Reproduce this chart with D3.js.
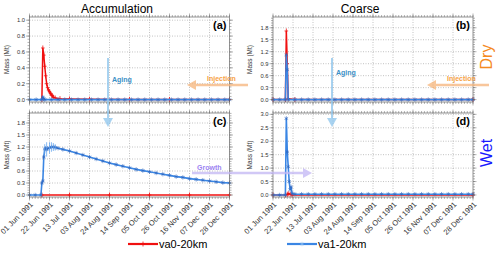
<!DOCTYPE html>
<html>
<head>
<meta charset="utf-8">
<script src="https://cdn.jsdelivr.net/npm/d3@7"></script>
<style>
  body { margin: 0; background: #fff; }
  svg { font-family: "Liberation Sans", Arial, sans-serif; display: block; }
</style>
</head>
<body>
<div id="chart"></div>
<script>
// dados
const xTickDates = ["1991-06-01", "1991-06-22", "1991-07-13", "1991-08-03", "1991-08-24",
  "1991-09-14", "1991-10-05", "1991-10-26", "1991-11-16", "1991-12-07", "1991-12-28"];

// (a) Accumulation / Dry
const va0A = [["1991-06-14", 0], ["1991-06-15", 0.65], ["1991-06-16", 0.56], ["1991-06-17", 0.42],
  ["1991-06-18", 0.3], ["1991-06-19", 0.2], ["1991-06-20", 0.15], ["1991-06-21", 0.12],
  ["1991-06-22", 0.1], ["1991-06-23", 0.08], ["1991-06-24", 0.06], ["1991-06-25", 0.05],
  ["1991-06-26", 0.03], ["1991-06-28", 0.02], ["1991-07-03", 0.012], ["1991-07-13", 0.008],
  ["1991-08-03", 0.005], ["1991-09-14", 0.003], ["1991-10-26", 0.002], ["1991-12-28", 0.001]];
const va1A = [["1991-06-01", 0], ["1991-06-08", 0], ["1991-06-14", 0], ["1991-06-15", 0.03],
  ["1991-06-16", 0.01], ["1991-06-17", 0], ["1991-06-24", 0], ["1991-07-01", 0], ["1991-07-08", 0],
  ["1991-07-15", 0], ["1991-07-22", 0], ["1991-07-29", 0], ["1991-08-05", 0], ["1991-08-12", 0],
  ["1991-08-19", 0], ["1991-08-26", 0], ["1991-09-02", 0], ["1991-09-09", 0], ["1991-09-16", 0],
  ["1991-09-23", 0], ["1991-09-30", 0], ["1991-10-07", 0], ["1991-10-14", 0], ["1991-10-21", 0],
  ["1991-10-28", 0], ["1991-11-04", 0], ["1991-11-11", 0], ["1991-11-18", 0], ["1991-11-25", 0],
  ["1991-12-02", 0], ["1991-12-09", 0], ["1991-12-16", 0], ["1991-12-23", 0], ["1991-12-28", 0]];

// (b) Coarse / Dry
const va0B = [["1991-06-01", 0], ["1991-06-14", 0], ["1991-06-15", 1.72], ["1991-06-16", 0.9],
  ["1991-06-17", 0.02], ["1991-06-24", 0], ["1991-12-28", 0]];
const va1B = [["1991-06-01", 0], ["1991-06-08", 0], ["1991-06-14", 0], ["1991-06-15", 1.12],
  ["1991-06-16", 0.75], ["1991-06-17", 0], ["1991-06-24", 0], ["1991-07-01", 0], ["1991-07-08", 0],
  ["1991-07-15", 0], ["1991-07-22", 0], ["1991-07-29", 0], ["1991-08-05", 0], ["1991-08-12", 0],
  ["1991-08-19", 0], ["1991-08-26", 0], ["1991-09-02", 0], ["1991-09-09", 0], ["1991-09-16", 0],
  ["1991-09-23", 0], ["1991-09-30", 0], ["1991-10-07", 0], ["1991-10-14", 0], ["1991-10-21", 0],
  ["1991-10-28", 0], ["1991-11-04", 0], ["1991-11-11", 0], ["1991-11-18", 0], ["1991-11-25", 0],
  ["1991-12-02", 0], ["1991-12-09", 0], ["1991-12-16", 0], ["1991-12-23", 0], ["1991-12-28", 0]];

// (c) Accumulation / Wet
const va0C = [["1991-06-14", 0], ["1991-07-13", 0], ["1991-08-24", 0], ["1991-10-05", 0],
  ["1991-11-16", 0], ["1991-12-28", 0]];
const va1C = [["1991-06-01", 0], ["1991-06-07", 0], ["1991-06-13", 0], ["1991-06-14", 0.3],
  ["1991-06-15", 0.35], ["1991-06-16", 0.95], ["1991-06-17", 1.15], ["1991-06-18", 1.17],
  ["1991-06-19", 1.14], ["1991-06-20", 1.16], ["1991-06-22", 1.18], ["1991-06-24", 1.2],
  ["1991-06-26", 1.2], ["1991-06-28", 1.19], ["1991-07-01", 1.17], ["1991-07-06", 1.14],
  ["1991-07-13", 1.1], ["1991-07-20", 1.05], ["1991-07-27", 1.0], ["1991-08-03", 0.95],
  ["1991-08-10", 0.9], ["1991-08-17", 0.85], ["1991-08-24", 0.8], ["1991-08-31", 0.76],
  ["1991-09-07", 0.72], ["1991-09-14", 0.68], ["1991-09-21", 0.64], ["1991-09-28", 0.61],
  ["1991-10-05", 0.58], ["1991-10-12", 0.55], ["1991-10-19", 0.52], ["1991-10-26", 0.49],
  ["1991-11-02", 0.46], ["1991-11-09", 0.44], ["1991-11-16", 0.41], ["1991-11-23", 0.39],
  ["1991-11-30", 0.37], ["1991-12-07", 0.35], ["1991-12-14", 0.33], ["1991-12-21", 0.31],
  ["1991-12-28", 0.3]];
// barras de dispersão perto do pico em (c)
const va1CErr = [["1991-06-17", 0.12], ["1991-06-19", 0.18], ["1991-06-22", 0.14], ["1991-06-24", 0.12],
  ["1991-06-26", 0.1], ["1991-06-28", 0.08]];

// (d) Coarse / Wet
const va0D = [["1991-06-01", 0], ["1991-06-14", 0], ["1991-06-16", 0.02], ["1991-06-17", 0.05],
  ["1991-06-19", 0.03], ["1991-06-21", 0], ["1991-12-28", 0]];
const va1D = [["1991-06-01", 0], ["1991-06-08", 0], ["1991-06-14", 0], ["1991-06-15", 2.85],
  ["1991-06-16", 1.6], ["1991-06-17", 1.05], ["1991-06-18", 0.5], ["1991-06-19", 0.2],
  ["1991-06-20", 0.3], ["1991-06-21", 0.05], ["1991-06-24", 0.03], ["1991-07-01", 0.03],
  ["1991-07-08", 0.03], ["1991-07-15", 0.03], ["1991-07-22", 0.03], ["1991-07-29", 0.03],
  ["1991-08-05", 0.03], ["1991-08-12", 0.03], ["1991-08-19", 0.03], ["1991-08-26", 0.03],
  ["1991-09-02", 0.03], ["1991-09-09", 0.03], ["1991-09-16", 0.03], ["1991-09-23", 0.03],
  ["1991-09-30", 0.03], ["1991-10-07", 0.03], ["1991-10-14", 0.03], ["1991-10-21", 0.03],
  ["1991-10-28", 0.03], ["1991-11-04", 0.03], ["1991-11-11", 0.03], ["1991-11-18", 0.03],
  ["1991-11-25", 0.03], ["1991-12-02", 0.03], ["1991-12-09", 0.03], ["1991-12-16", 0.03],
  ["1991-12-23", 0.03], ["1991-12-28", 0.03]];

const yTicksA = [0, 0.2, 0.4, 0.6, 0.8, 1.0];
const yTicksB = [0, 0.3, 0.6, 0.9, 1.2, 1.5, 1.8];
const yTicksC = [0, 0.3, 0.6, 0.9, 1.2, 1.5, 1.8];
const yTicksD = [0, 0.5, 1.0, 1.5, 2.0, 2.5, 3.0];

const colTitles = ["Accumulation", "Coarse"];
const rowLabels = ["Dry", "Wet"];
const seriesNames = ["va0-20km", "va1-20km"];

const width = 500;
const height = 253;
const RED = "#f01010";
const BLUE = "#3a86e4";

const parse = d3.utcParse("%Y-%m-%d");
const fmtDate = d3.utcFormat("%d %b %Y");

const svg = d3.select("#chart").append("svg")
  .attr("width", width).attr("height", height);

const panels = [
  { tag: "(a)", left: 29.5, top: 17, h: 85, dom: [-0.03, 1.04], ticks: yTicksA, minor: 0.04, red: va0A, blue: va1A, err: [], xlab: false },
  { tag: "(b)", left: 273, top: 17, h: 85, dom: [-0.06, 2.07], ticks: yTicksB, minor: 0.06, red: va0B, blue: va1B, err: [], xlab: false },
  { tag: "(c)", left: 29.5, top: 113, h: 84, dom: [-0.05, 2.05], ticks: yTicksC, minor: 0.06, red: va0C, blue: va1C, err: va1CErr, xlab: true },
  { tag: "(d)", left: 273, top: 113, h: 84, dom: [-0.075, 3.05], ticks: yTicksD, minor: 0.1, red: va0D, blue: va1D, err: [], xlab: true },
];
const plotW = 200;

const xStart = parse("1991-06-01");
const xEnd = parse("1991-12-28");
const minorX = d3.utcDay.range(xStart, d3.utcDay.offset(xEnd, 1), 3);

function drawMarker(g, type, x, y, color) {
  if (type === "plus") {
    g.append("path").attr("d", `M${x},${y - 2.5}V${y + 2.5}M${x - 1.8},${y}H${x + 1.8}`)
      .attr("stroke", color).attr("stroke-width", 0.8);
  } else {
    g.append("path")
      .attr("d", `M${x},${y - 2.2}V${y + 2.2}M${x - 1.8},${y - 1.1}L${x + 1.8},${y + 1.1}M${x - 1.8},${y + 1.1}L${x + 1.8},${y - 1.1}`)
      .attr("stroke", color).attr("stroke-width", 0.6);
  }
}

panels.forEach((p) => {
  const x = d3.scaleUtc().domain([xStart, xEnd]).range([p.left, p.left + plotW]);
  const y = d3.scaleLinear().domain(p.dom).range([p.top + p.h, p.top]);
  const g = svg.append("g");
  const bottom = p.top + p.h;
  const right = p.left + plotW;

  // grade pontilhada
  g.selectAll(".gx").data(xTickDates.slice(1, -1)).join("line")
    .attr("x1", (d) => x(parse(d))).attr("x2", (d) => x(parse(d)))
    .attr("y1", p.top).attr("y2", bottom)
    .attr("stroke", "#9a9a9a").attr("stroke-width", 0.6).attr("stroke-dasharray", "1,1.5");
  g.selectAll(".gy").data(p.ticks.slice(1)).join("line")
    .attr("x1", p.left).attr("x2", right)
    .attr("y1", (d) => y(d)).attr("y2", (d) => y(d))
    .attr("stroke", "#9a9a9a").attr("stroke-width", 0.6).attr("stroke-dasharray", "1,1.5");

  // séries: vermelho primeiro, azul por cima
  const line = d3.line().x((d) => x(parse(d[0]))).y((d) => y(d[1]));
  g.append("path").datum(p.red).attr("d", line)
    .attr("fill", "none").attr("stroke", RED).attr("stroke-width", 1.5);
  p.red.forEach((d) => drawMarker(g, "plus", x(parse(d[0])), y(d[1]), RED));
  g.append("path").datum(p.blue).attr("d", line)
    .attr("fill", "none").attr("stroke", BLUE).attr("stroke-width", 1.6);
  p.blue.forEach((d) => drawMarker(g, "star", x(parse(d[0])), y(d[1]), "#2f66c0"));
  const byDate = new Map(p.blue);
  p.err.forEach((d) => {
    const xx = x(parse(d[0]));
    const v = byDate.get(d[0]);
    g.append("line").attr("x1", xx).attr("x2", xx)
      .attr("y1", y(v - d[1])).attr("y2", y(v + d[1]))
      .attr("stroke", "#6aa8ee").attr("stroke-width", 0.8);
  });

  // moldura
  g.append("rect").attr("x", p.left).attr("y", p.top).attr("width", plotW).attr("height", p.h)
    .attr("fill", "none").attr("stroke", "#666").attr("stroke-width", 0.7);

  // ticks menores nos quatro lados
  const tk = g.append("g").attr("stroke", "#666").attr("stroke-width", 0.5);
  minorX.forEach((d) => {
    const xx = x(d);
    tk.append("line").attr("x1", xx).attr("x2", xx).attr("y1", p.top).attr("y2", p.top - 2);
    tk.append("line").attr("x1", xx).attr("x2", xx).attr("y1", bottom).attr("y2", bottom + 2);
  });
  xTickDates.forEach((d) => {
    const xx = x(parse(d));
    tk.append("line").attr("x1", xx).attr("x2", xx).attr("y1", p.top).attr("y2", p.top - 3.5);
    tk.append("line").attr("x1", xx).attr("x2", xx).attr("y1", bottom).attr("y2", bottom + 3.5);
  });
  d3.range(0, p.dom[1], p.minor).forEach((v) => {
    tk.append("line").attr("x1", p.left).attr("x2", p.left - 2).attr("y1", y(v)).attr("y2", y(v));
    tk.append("line").attr("x1", right).attr("x2", right + 2).attr("y1", y(v)).attr("y2", y(v));
  });
  p.ticks.forEach((v) => {
    tk.append("line").attr("x1", p.left).attr("x2", p.left - 3.5).attr("y1", y(v)).attr("y2", y(v));
    tk.append("line").attr("x1", right).attr("x2", right + 3.5).attr("y1", y(v)).attr("y2", y(v));
  });

  // rótulos do eixo y
  g.selectAll(".yl").data(p.ticks).join("text")
    .attr("x", p.left - 4.5).attr("y", (d) => y(d) + 2)
    .attr("text-anchor", "end").attr("font-size", 5.8).attr("fill", "#333")
    .text((d) => d.toFixed(1));
  g.append("text")
    .attr("transform", `translate(${p.left - 21},${p.top + p.h / 2}) rotate(-90)`)
    .attr("text-anchor", "middle").attr("font-size", 6.5).attr("fill", "#333")
    .text("Mass (Mt)");

  // rótulo do painel
  g.append("text").attr("x", right - 3).attr("y", p.top + 12)
    .attr("text-anchor", "end").attr("font-size", 11).attr("font-weight", "bold")
    .text(p.tag);

  // datas rotacionadas
  if (p.xlab) {
    g.selectAll(".xl").data(xTickDates).join("text")
      .attr("transform", (d) => `translate(${x(parse(d)) + 2},${bottom + 6}) rotate(-45)`)
      .attr("text-anchor", "end").attr("font-size", 7.6).attr("fill", "#333")
      .attr("dy", "0.35em")
      .text((d) => fmtDate(parse(d)));
  }
});

// títulos das colunas
svg.append("text").attr("x", 117).attr("y", 13).attr("text-anchor", "middle")
  .attr("font-size", 12).text(colTitles[0]);
svg.append("text").attr("x", 360).attr("y", 13).attr("text-anchor", "middle")
  .attr("font-size", 12).text(colTitles[1]);

// rótulos das linhas
svg.append("text").attr("transform", "translate(492,57) rotate(-90)")
  .attr("text-anchor", "middle").attr("font-size", 16).attr("fill", "#f58a1f").text(rowLabels[0]);
svg.append("text").attr("transform", "translate(492,153) rotate(-90)")
  .attr("text-anchor", "middle").attr("font-size", 16).attr("fill", "#1a1aff").text(rowLabels[1]);

// setas de anotação
function arrow(x1, y1, x2, y2, color, w) {
  const ang = Math.atan2(y2 - y1, x2 - x1);
  const hl = 9, hw = 5;
  const bx = x2 - hl * Math.cos(ang), by = y2 - hl * Math.sin(ang);
  const nx = -Math.sin(ang) * hw, ny = Math.cos(ang) * hw;
  svg.append("line").attr("x1", x1).attr("y1", y1).attr("x2", bx).attr("y2", by)
    .attr("stroke", color).attr("stroke-width", w).attr("opacity", 0.75);
  svg.append("path").attr("d", `M${x2},${y2}L${bx + nx},${by + ny}L${bx - nx},${by - ny}Z`)
    .attr("fill", color).attr("opacity", 0.75);
}
arrow(108, 58, 108, 127, "#8cc4ec", 2);
arrow(332, 58, 332, 127, "#8cc4ec", 2);
arrow(248, 85, 187, 85, "#f6b47a", 2.5);
arrow(489, 85, 427, 85, "#f6b47a", 2.5);
arrow(192, 173, 312, 173, "#c2b6f4", 2.5);

function note(xp, yp, txt, color) {
  svg.append("text").attr("x", xp).attr("y", yp).attr("font-size", 7)
    .attr("font-weight", "bold").attr("fill", color).text(txt);
}
note(112, 82, "Aging", "#3b8fc6");
note(336, 75, "Aging", "#3b8fc6");
note(207, 81, "Injection", "#f7a244");
note(447, 81, "Injection", "#f7a244");
note(197, 170, "Growth", "#9c84f2");

// legenda
const leg = svg.append("g");
leg.append("line").attr("x1", 128).attr("x2", 158).attr("y1", 244).attr("y2", 244)
  .attr("stroke", RED).attr("stroke-width", 2.2);
drawMarker(leg, "plus", 143, 244, RED);
leg.append("text").attr("x", 159).attr("y", 248).attr("font-size", 11).text(seriesNames[0]);
leg.append("line").attr("x1", 287).attr("x2", 317).attr("y1", 244).attr("y2", 244)
  .attr("stroke", BLUE).attr("stroke-width", 2.2);
drawMarker(leg, "star", 302, 244, "#8fc0f2");
leg.append("text").attr("x", 318).attr("y", 248).attr("font-size", 11).text(seriesNames[1]);
</script>
</body>
</html>
